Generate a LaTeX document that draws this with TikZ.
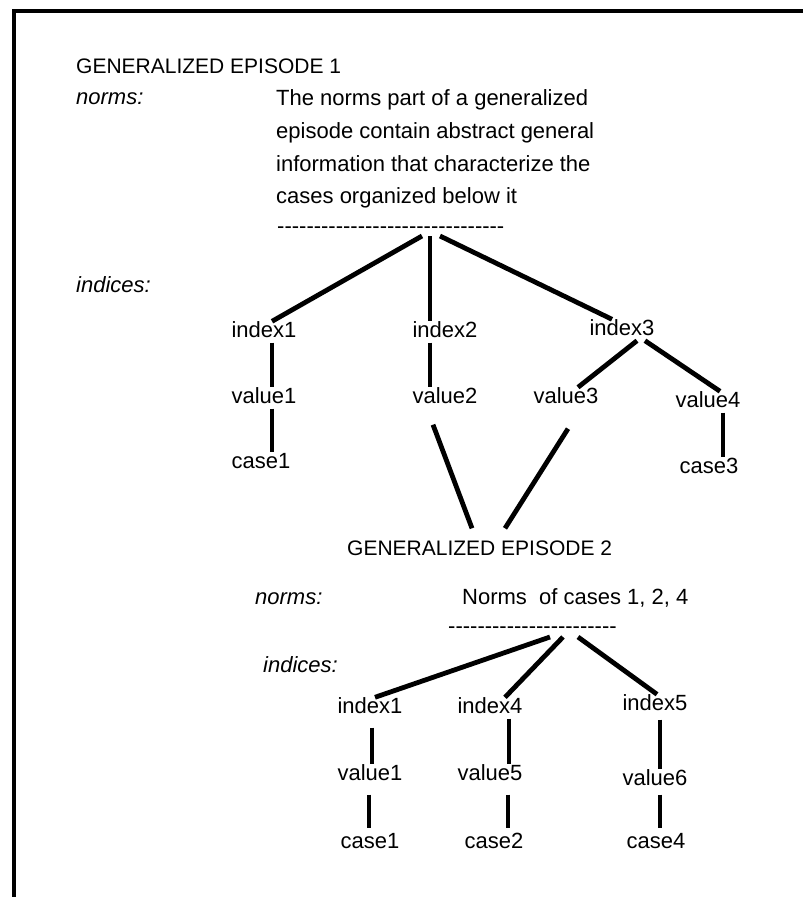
\documentclass[tikz,border=0pt]{standalone}
\usepackage{fontspec}
\setmainfont{Liberation Sans}
\newcommand\dashrow[1]{\foreach\k in {1,...,#1}{-\kern0pt}}
\begin{document}
\begin{tikzpicture}[x=1pt,y=-1pt,
    txt/.style={inner sep=0pt,text height=16pt,text depth=5pt,font=\fontsize{22}{26}\selectfont},
    head/.style={txt,anchor=west,font=\fontsize{21}{26}\selectfont},
    lbl/.style={txt,anchor=west,font=\fontsize{22}{26}\selectfont\itshape},
    branch/.style={line width=4.8pt},
    stem/.style={line width=3.2pt}]
  \useasboundingbox (0,0) rectangle (803,897);
  \draw[line width=4pt] (13.5,897) -- (13.5,10.5) -- (803,10.5);

  % episode 1
  \node[head] (g1) at (76,68) {GENERALIZED EPISODE 1};
  \node[lbl] (nm1) at (76,99) {norms:};
  \node[txt,anchor=west] (na) at (276,100) {The norms part of a generalized};
  \node[txt,anchor=west] (nb) at (276,133) {episode contain abstract general};
  \node[txt,anchor=west] (nc) at (276,166) {information that characterize the};
  \node[txt,anchor=west] (nd) at (276,198) {cases organized below it};
  \node[txt,anchor=west] (d1) at (277,228) {\dashrow{31}};
  \coordinate (r1) at (430,236);
  \node[lbl] (ix1) at (76,287) {indices:};

  \node[txt] (i1) at (264,332) {index1};
  \node[txt] (i2) at (445,332) {index2};
  \node[txt] (i3) at (622,330) {index3};
  \node[txt] (v1) at (264,398) {value1};
  \node[txt] (v2) at (445,398) {value2};
  \node[txt] (v3) at (566,398) {value3};
  \node[txt] (v4) at (708,402) {value4};
  \node[txt] (c1) at (261,463) {case1};
  \node[txt] (c3) at (709,468) {case3};

  \draw[branch] ([xshift=-8pt]r1) -- ([xshift=8pt]i1.north);
  \draw[stem] (r1) -- ([xshift=-15pt]i2.north);
  \draw[branch] ([xshift=10pt]r1) -- ([xshift=-10pt]i3.north);
  \draw[stem] ([xshift=8pt]i1.south) -- ([xshift=8pt]v1.north);
  \draw[stem] ([xshift=8pt]v1.south) -- ([xshift=11pt]c1.north);
  \draw[stem] ([xshift=-15pt]i2.south) -- ([xshift=-15pt]v2.north);
  \draw[branch] ([xshift=15pt]i3.south) -- ([xshift=12pt]v3.north);
  \draw[branch] ([xshift=23pt]i3.south) -- ([xshift=12pt]v4.north);
  \draw[branch] ([xshift=15pt]v4.south) -- ([xshift=14pt]c3.north);

  % episode 2
  \node[head] (g2) at (347,550) {GENERALIZED EPISODE 2};
  \draw[branch] ([shift={(-12pt,-16pt)}]v2.south) -- ([shift={(125pt,11pt)}]g2.north west);
  \draw[branch] ([shift={(2pt,-20pt)}]v3.south) -- ([shift={(158pt,11pt)}]g2.north west);

  \node[lbl] (nm2) at (255,599) {norms:};
  \node[txt,anchor=west] (ne) at (462,599) {Norms\ \ of cases 1, 2, 4};
  \node[txt,anchor=west] (d2) at (448,628) {\dashrow{23}};
  \coordinate (r2) at (563,637);
  \node[lbl] (ix2) at (263,667) {indices:};

  \node[txt] (j1) at (370,708) {index1};
  \node[txt] (j4) at (490,708) {index4};
  \node[txt] (j5) at (655,705) {index5};
  \node[txt] (w1) at (370,775) {value1};
  \node[txt] (w5) at (490,775) {value5};
  \node[txt] (w6) at (655,780) {value6};
  \node[txt] (k1) at (370,843) {case1};
  \node[txt] (k2) at (494,843) {case2};
  \node[txt] (k4) at (656,843) {case4};

  \draw[branch] ([xshift=-13pt]r2) -- ([xshift=5pt]j1.north);
  \draw[branch] (r2) -- ([xshift=15pt]j4.north);
  \draw[branch] ([xshift=15pt]r2) -- ([xshift=2pt]j5.north);
  \draw[branch] ([shift={(2pt,-9pt)}]j1.south) -- ([xshift=2pt]w1.north);
  \draw[stem] ([xshift=19pt]j4.south) -- ([xshift=19pt]w5.north);
  \draw[branch] ([shift={(5pt,-4pt)}]j5.south) -- ([xshift=5pt]w6.north);
  \draw[branch] ([shift={(-1pt,-9pt)}]w1.south) -- ([shift={(-1pt,4pt)}]k1.north);
  \draw[stem] ([shift={(18pt,-9pt)}]w5.south) -- ([shift={(14pt,4pt)}]k2.north);
  \draw[branch] ([shift={(5pt,-4pt)}]w6.south) -- ([shift={(4pt,4pt)}]k4.north);
\end{tikzpicture}
\end{document}
